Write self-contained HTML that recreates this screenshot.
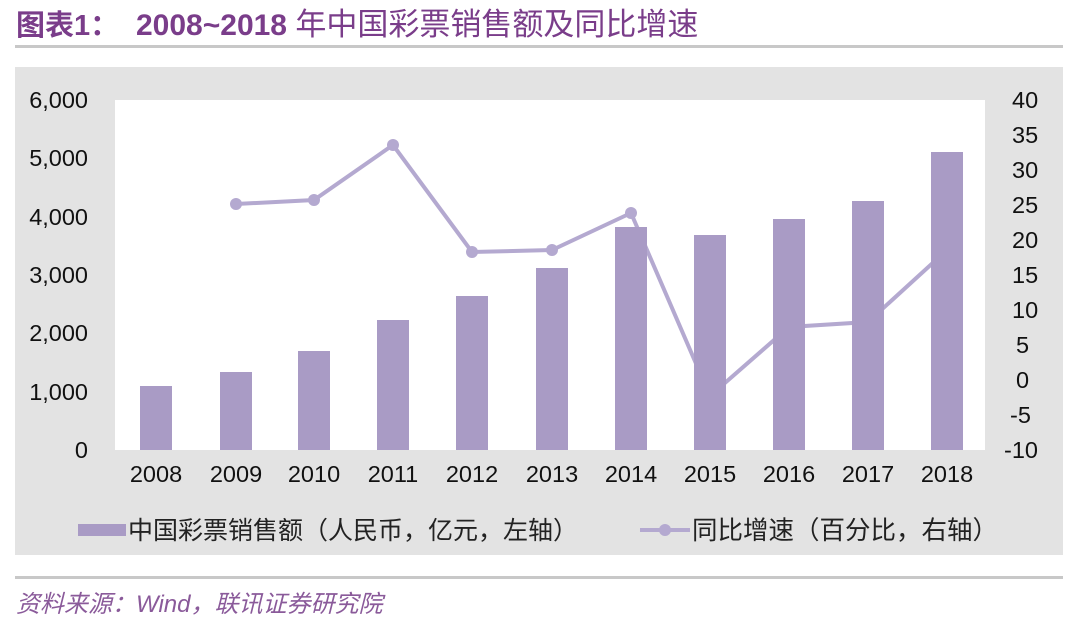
<!DOCTYPE html><html><head><meta charset="utf-8"><style>
body{margin:0;width:1080px;height:620px;background:#fff;overflow:hidden;font-family:"Liberation Sans","Noto Sans CJK SC",sans-serif}
</style></head><body>
<svg width="1080" height="620" xmlns="http://www.w3.org/2000/svg" font-family="Liberation Sans, Noto Sans CJK SC, sans-serif">
<text x="16" y="35" font-size="29" fill="#7a3d8a" font-weight="bold">图表1：</text>
<text x="136" y="35" font-size="30" fill="#7a3d8a" font-weight="bold">2008~2018 <tspan font-weight="normal" font-size="31">年中国彩票销售额及同比增速</tspan></text>
<rect x="15" y="45" width="1048" height="3" fill="#c8c8c8"/>
<rect x="15" y="67" width="1048" height="488" fill="#e3e3e3"/>
<rect x="115" y="100" width="870" height="350" fill="#fff"/>
<g font-size="23.5" fill="#111" text-anchor="end">
<text x="88" y="108">6,000</text><text x="88" y="166">5,000</text><text x="88" y="225">4,000</text><text x="88" y="283">3,000</text><text x="88" y="341">2,000</text><text x="88" y="400">1,000</text><text x="88" y="458">0</text>
</g>
<g font-size="23.5" fill="#111" text-anchor="start">
<text x="1012" y="108">40</text><text x="1012" y="143">35</text><text x="1012" y="178">30</text><text x="1012" y="213">25</text><text x="1012" y="248">20</text><text x="1012" y="283">15</text><text x="1012" y="318">10</text><text x="1016" y="353">5</text><text x="1016" y="388">0</text><text x="1010" y="423">-5</text><text x="1004" y="458">-10</text>
</g>
<polyline points="236,204 314,200 393,145 472,252 552,250 631,213 710,396 789,327 868,322 947,250" fill="none" stroke="#b4a9d0" stroke-width="4"/>
<g fill="#b4a9d0"><circle cx="236" cy="204" r="6"/><circle cx="314" cy="200" r="6"/><circle cx="393" cy="145" r="6"/><circle cx="472" cy="252" r="6"/><circle cx="552" cy="250" r="6"/><circle cx="631" cy="213" r="6"/></g>
<g fill="#a99bc5">
<rect x="140" y="386" width="32" height="64"/><rect x="220" y="372" width="32" height="78"/><rect x="298" y="351" width="32" height="99"/><rect x="377" y="320" width="32" height="130"/><rect x="456" y="296" width="32" height="154"/><rect x="536" y="268" width="32" height="182"/><rect x="615" y="227" width="32" height="223"/><rect x="694" y="235" width="32" height="215"/><rect x="773" y="219" width="32" height="231"/><rect x="852" y="201" width="32" height="249"/><rect x="931" y="152" width="32" height="298"/>
</g>
<g font-size="23.5" fill="#111" text-anchor="middle">
<text x="156" y="482">2008</text><text x="236" y="482">2009</text><text x="314" y="482">2010</text><text x="393" y="482">2011</text><text x="472" y="482">2012</text><text x="552" y="482">2013</text><text x="631" y="482">2014</text><text x="710" y="482">2015</text><text x="789" y="482">2016</text><text x="868" y="482">2017</text><text x="947" y="482">2018</text>
</g>
<rect x="78" y="524" width="48" height="12" fill="#a99bc5"/>
<text x="128" y="539" font-size="25" fill="#222">中国彩票销售额（人民币，亿元，左轴）</text>
<line x1="640" y1="530" x2="690" y2="530" stroke="#b4a9d0" stroke-width="4"/><circle cx="665" cy="530" r="6" fill="#b4a9d0"/>
<text x="692" y="539" font-size="25.5" fill="#222">同比增速（百分比，右轴）</text>
<rect x="15" y="576" width="1048" height="3" fill="#c8c8c8"/>
<text x="16" y="612" font-size="24" fill="#8a5a9a" font-style="italic">资料来源：Wind，联讯证券研究院</text>
</svg>
</body></html>
